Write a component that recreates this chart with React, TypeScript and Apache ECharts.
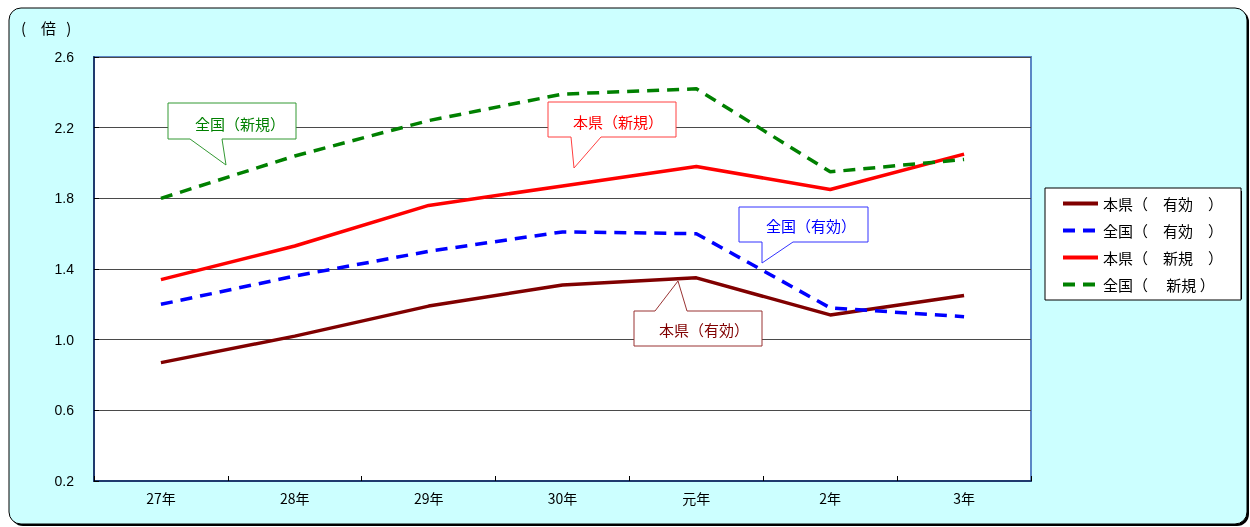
import React, { useEffect, useRef } from "react";
import * as echarts from "echarts";

const categories = ["27年", "28年", "29年", "30年", "元年", "2年", "3年"];
const kenYuko = [0.87, 1.02, 1.19, 1.31, 1.35, 1.14, 1.25];
const zenYuko = [1.2, 1.36, 1.5, 1.61, 1.6, 1.18, 1.13];
const kenShinki = [1.34, 1.53, 1.76, 1.87, 1.98, 1.85, 2.05];
const zenShinki = [1.8, 2.04, 2.24, 2.39, 2.42, 1.95, 2.02];
const seriesNames = ["本県（　有効　）", "全国（　有効　）", "本県（　新規　）", "全国（　 新規 ）"];

const CJK = '"Noto Sans CJK JP", "Noto Sans", sans-serif';

type Tail = { side: "top" | "bottom"; b1: number; tipX: number; tipY: number; b2: number };

function callout(
  l: number, t: number, r: number, b: number, tail: Tail,
  text: string, stroke: string, color: string, tx: number, ty: number
) {
  const pts =
    tail.side === "bottom"
      ? [[l, t], [r, t], [r, b], [tail.b2, b], [tail.tipX, tail.tipY], [tail.b1, b], [l, b]]
      : [[l, t], [tail.b1, t], [tail.tipX, tail.tipY], [tail.b2, t], [r, t], [r, b], [l, b]];
  return [
    {
      type: "polygon",
      z: 50,
      shape: { points: pts },
      style: { fill: "#ffffff", stroke, lineWidth: 1 },
    },
    {
      type: "text",
      z: 51,
      x: tx,
      y: ty,
      style: {
        text,
        fill: color,
        font: `15px ${CJK}`,
        textAlign: "center",
        textVerticalAlign: "middle",
      },
    },
  ];
}

export default function App() {
  const ref = useRef<HTMLDivElement>(null);
  useEffect(() => {
    if (!ref.current) return;
    const chart = echarts.init(ref.current, undefined, { renderer: "svg" });
    const option: any = {
      animation: false,
      backgroundColor: "transparent",
      textStyle: { fontFamily: CJK },
      graphic: [
        { type: "rect", z: -10, shape: { x: 11, y: 10, width: 1238, height: 516, r: 12 }, style: { fill: "#000" } },
        { type: "rect", z: -9, shape: { x: 9, y: 8, width: 1238, height: 516, r: 12 }, style: { fill: "#CCFFFF", stroke: "#000", lineWidth: 1 } },
        { type: "rect", z: 0, shape: { x: 1048, y: 191, width: 194, height: 108 }, style: { fill: "#000" } },
        {
          type: "text", x: 21, y: 27, z: 10,
          style: { text: "(　倍   )", fill: "#000", font: `15px ${CJK}`, textVerticalAlign: "middle" },
        },
        ...callout(168, 103, 296, 139, { side: "bottom", b1: 190, tipX: 226, tipY: 165, b2: 222 }, "全国（新規）", "#339933", "#008000", 240, 123),
        ...callout(548, 102, 676, 137, { side: "bottom", b1: 571, tipX: 574, tipY: 168, b2: 601 }, "本県（新規）", "#FF4040", "#FF0000", 618, 121),
        ...callout(739, 207, 868, 242, { side: "bottom", b1: 762, tipX: 762, tipY: 263, b2: 793 }, "全国（有効）", "#3333FF", "#0000FF", 811, 225),
        ...callout(634, 311, 762, 346, { side: "top", b1: 655, tipX: 678, tipY: 281, b2: 687 }, "本県（有効）", "#993333", "#800000", 704, 329),
      ],
      legend: {
        orient: "vertical",
        left: 1045,
        top: 188,
        itemWidth: 35,
        itemHeight: 14,
        itemGap: 12,
        padding: [8, 18, 8, 16],
        backgroundColor: "#fff",
        borderColor: "#000",
        borderWidth: 1,
        borderRadius: 0,
        itemStyle: { opacity: 0 },
        lineStyle: { width: 4 },
        textStyle: { fontSize: 15, color: "#000", fontFamily: CJK },
        data: seriesNames,
      },
      grid: {
        left: 94,
        top: 57,
        width: 937,
        height: 424,
        show: true,
        backgroundColor: "#fff",
        borderColor: "#5B87C5",
        borderWidth: 2,
      },
      xAxis: {
        type: "category",
        data: categories,
        boundaryGap: true,
        axisLine: { lineStyle: { color: "#1F3A6E", width: 2 } },
        axisTick: { show: true, inside: true, length: 5, lineStyle: { color: "#000" } },
        axisLabel: { color: "#000", fontSize: 14, margin: 10, fontFamily: CJK },
        splitLine: { show: false },
      },
      yAxis: {
        type: "value",
        min: 0.2,
        max: 2.6,
        interval: 0.4,
        axisLine: { show: true, lineStyle: { color: "#1F3A6E", width: 2 } },
        axisTick: { show: true, inside: true, length: 5, lineStyle: { color: "#000" } },
        axisLabel: {
          color: "#000",
          fontSize: 14,
          margin: 20,
          fontFamily: '"Liberation Sans", Arial, sans-serif',
          formatter: (v: number) => v.toFixed(1),
        },
        splitLine: { show: true, lineStyle: { color: "#4a4a4a", width: 1 } },
      },
      series: [
        {
          name: seriesNames[0], type: "line", data: kenYuko, symbol: "none",
          lineStyle: { color: "#800000", width: 3.5 }, itemStyle: { color: "#800000" }, z: 3,
        },
        {
          name: seriesNames[1], type: "line", data: zenYuko, symbol: "none",
          lineStyle: { color: "#0000FF", width: 3.5, type: [12, 8] }, itemStyle: { color: "#0000FF" }, z: 4,
        },
        {
          name: seriesNames[2], type: "line", data: kenShinki, symbol: "none",
          lineStyle: { color: "#FF0000", width: 3.5 }, itemStyle: { color: "#FF0000" }, z: 5,
        },
        {
          name: seriesNames[3], type: "line", data: zenShinki, symbol: "none",
          lineStyle: { color: "#008000", width: 3.5, type: [12, 8] }, itemStyle: { color: "#008000" }, z: 6,
        },
      ],
    };
    chart.setOption(option);
    return () => chart.dispose();
  }, []);
  return (
    <div
      ref={ref}
      style={{ position: "fixed", left: 0, top: 0, width: 1250, height: 527 }}
    />
  );
}
